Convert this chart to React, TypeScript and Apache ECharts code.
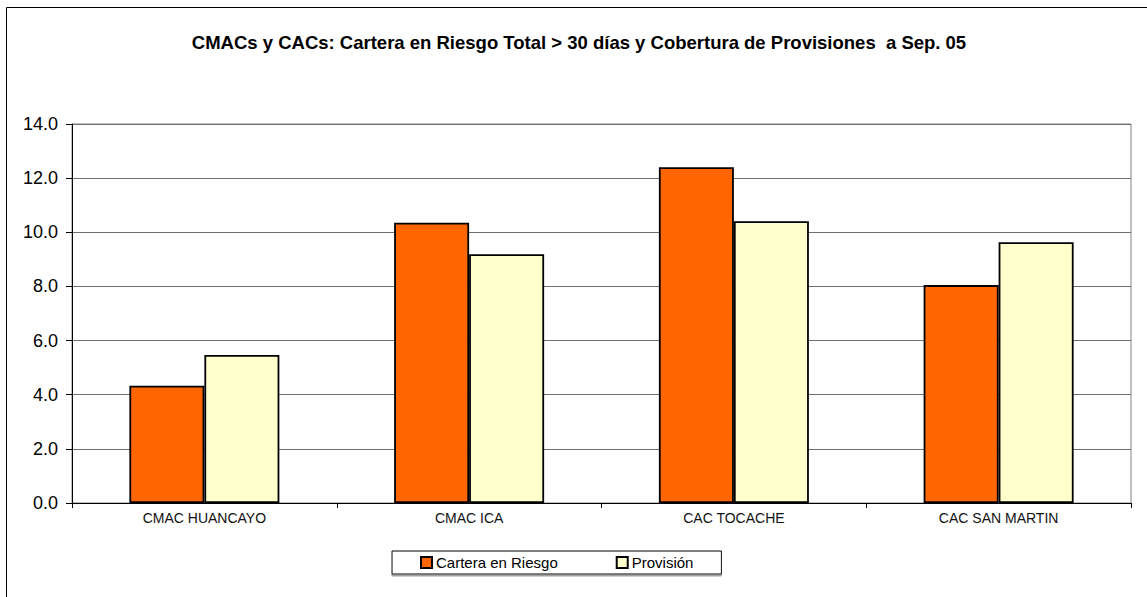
import React, { useEffect, useRef } from "react";
import * as echarts from "echarts";

const categories = ["CMAC HUANCAYO", "CMAC ICA", "CAC TOCACHE", "CAC SAN MARTIN"];
const carteraEnRiesgo = [4.33, 10.35, 12.4, 8.05];
const provision = [5.47, 9.19, 10.41, 9.63];
const seriesNames = ["Cartera en Riesgo", "Provisión"];
const titleText = "CMACs y CACs: Cartera en Riesgo Total > 30 días y Cobertura de Provisiones  a Sep. 05";

const FONT = "'Liberation Sans', Arial, Helvetica, sans-serif";

export default function App() {
  const ref = useRef<HTMLDivElement>(null);
  useEffect(() => {
    if (!ref.current) return;
    const chart = echarts.init(ref.current, undefined, { renderer: "svg" });
    chart.setOption({
      animation: false,
      backgroundColor: "#ffffff",
      textStyle: { fontFamily: FONT },
      graphic: [
        {
          type: "rect",
          shape: { x: 6.5, y: 7.5, width: 1200, height: 700 },
          style: { fill: "none", stroke: "#000", lineWidth: 1 },
          silent: true,
          z: 100,
        },
        {
          type: "text",
          x: 579,
          y: 42,
          style: {
            text: titleText,
            font: `bold 18.5px ${FONT}`,
            fill: "#000",
            textAlign: "center",
            textVerticalAlign: "middle",
          },
        },
      ],
      grid: {
        left: 72,
        top: 124,
        right: 16,
        bottom: 94,
        show: true,
        borderColor: "#808080",
        borderWidth: 1,
        backgroundColor: "transparent",
      },
      legend: {
        left: 392,
        top: 551,
        padding: [4, 28, 4, 28],
        itemGap: 58,
        itemWidth: 11,
        itemHeight: 11,
        icon: "rect",
        borderColor: "#000",
        borderWidth: 1,
        shadowColor: "#a0a0a0",
        shadowOffsetY: 2,
        shadowOffsetX: 0,
        shadowBlur: 0,
        backgroundColor: "#fff",
        textStyle: { fontSize: 15, color: "#000", fontFamily: FONT, padding: [0, 0, 0, -1] },
        data: seriesNames,
      },
      xAxis: {
        type: "category",
        data: categories,
        axisLine: { lineStyle: { color: "#000", width: 1 } },
        axisTick: { show: true, length: 5, lineStyle: { color: "#000" } },
        axisLabel: { fontSize: 14, color: "#111", margin: 8, fontFamily: FONT },
        splitLine: { show: false },
      },
      yAxis: {
        type: "value",
        min: 0,
        max: 14,
        interval: 2,
        axisLine: { show: true, lineStyle: { color: "#000", width: 1 } },
        axisTick: { show: true, length: 6, lineStyle: { color: "#000" } },
        axisLabel: {
          fontSize: 18,
          color: "#000",
          margin: 14,
          fontFamily: FONT,
          formatter: (v: number) => v.toFixed(1),
        },
        splitLine: { show: true, lineStyle: { color: "#707070", width: 1 } },
      },
      series: [
        {
          name: seriesNames[0],
          type: "bar",
          data: carteraEnRiesgo,
          barWidth: 75,
          barGap: "0%",
          itemStyle: { color: "#FF6600", borderColor: "#000", borderWidth: 1.8 },
        },
        {
          name: seriesNames[1],
          type: "bar",
          data: provision,
          barWidth: 75,
          barGap: "0%",
          itemStyle: { color: "#FFFFCC", borderColor: "#000", borderWidth: 1.8 },
        },
      ],
    });
    return () => chart.dispose();
  }, []);
  return (
    <div
      ref={ref}
      style={{ position: "fixed", left: 0, top: 0, width: 1147, height: 597 }}
    />
  );
}
